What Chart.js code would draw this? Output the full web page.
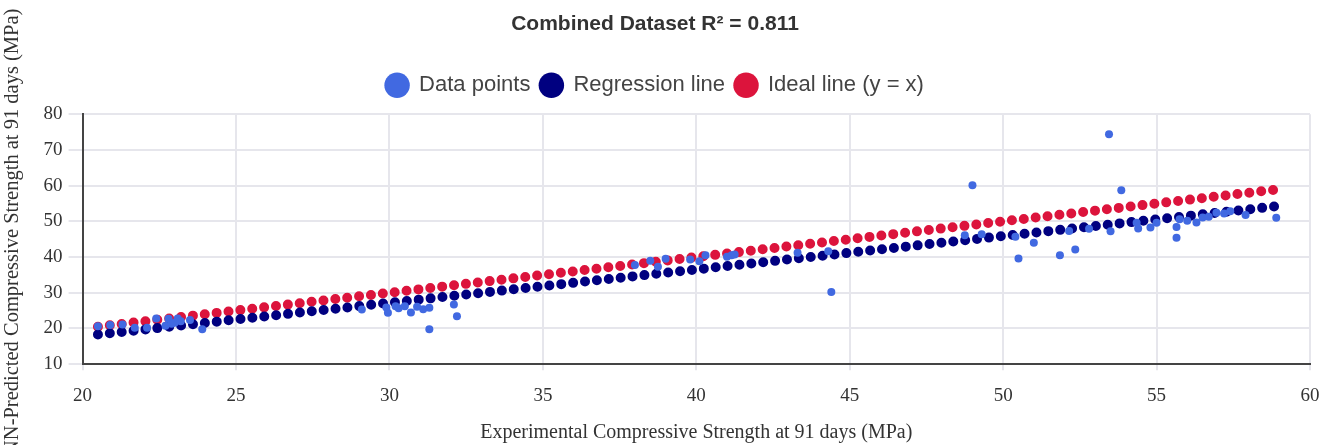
<!DOCTYPE html>
<html>
<head>
<meta charset="utf-8">
<script src="https://cdn.jsdelivr.net/npm/chart.js@4.4.1/dist/chart.umd.min.js"></script>
<style>
  html, body { margin: 0; padding: 0; background: #fff; }
  #wrap { width: 1335px; height: 445px; }
</style>
</head>
<body>
<div id="wrap"><canvas id="fitChart"></canvas></div>
<script>
// Valores
const experimental = [
  20.5, 20.9, 21.3, 21.7, 22.1, 22.4, 22.7, 22.8, 22.9, 23.0, 23.1, 23.2, 23.5, 23.9,
  29.1, 29.9, 29.95, 30.2, 30.3, 30.5, 30.7, 30.9, 31.1, 31.3, 31.3, 32.1, 32.2,
  38.0, 38.5, 38.75, 39.0, 39.8, 40.1, 40.3, 41.0, 41.15, 41.25, 43.3, 44.3, 44.4,
  48.75, 49.0, 49.3, 50.4, 50.5, 51.0, 51.85, 52.15, 52.35, 52.8, 53.45, 53.5, 53.85,
  54.35, 54.4, 54.8, 55.0, 55.65, 55.65, 55.75, 56.0, 56.3, 56.5, 56.7, 56.95, 57.2,
  57.4, 57.9, 58.9
];
const predicted = [
  20.6, 21.0, 21.1, 20.2, 20.2, 22.8, 20.8, 22.7, 21.3, 21.6, 22.8, 22.0, 22.4, 19.8,
  25.3, 25.9, 24.4, 26.2, 25.7, 26.2, 24.5, 26.1, 25.4, 25.8, 19.8, 26.7, 23.4,
  37.8, 39.0, 37.3, 39.5, 39.3, 38.8, 40.5, 40.1, 40.5, 40.7, 41.2, 41.6, 30.2,
  46.1, 60.1, 46.4, 45.7, 39.6, 44.0, 40.5, 47.3, 42.1, 47.9, 74.4, 47.2, 58.7,
  49.6, 48.0, 48.3, 49.6, 48.4, 45.4, 50.6, 50.2, 49.7, 51.1, 51.3, 52.4, 52.2,
  52.8, 51.8, 51.0
];

// Extremos de las líneas
const regressionX = [20.5, 58.9];
const regressionY = [18.3, 54.2];
const idealX = [20.5, 58.9];
const idealY = [20.5, 58.9];

// Ejes
const xMin = 20, xMax = 60, xStep = 5;
const yMin = 10, yMax = 80, yStep = 10;

const chartTitle = 'Combined Dataset R² = 0.811';
const seriesNames = ['Data points', 'Regression line', 'Ideal line (y = x)'];
const xTitle = 'Experimental Compressive Strength at 91 days (MPa)';
const yTitle = 'ANN-Predicted Compressive Strength at 91 days (MPa)';

const toPoints = (xs, ys) => xs.map((x, i) => ({ x: x, y: ys[i] }));

const serif = 'Liberation Serif, Times New Roman, serif';
const sans = 'Liberation Sans, Arial, sans-serif';

// Línea punteada hecha con guiones de longitud cero y extremos redondos
const dotted = (color) => ({
  showLine: true,
  pointRadius: 0,
  pointHoverRadius: 0,
  borderColor: color,
  backgroundColor: color,
  borderWidth: 10,
  borderCapStyle: 'round',
  borderDash: [0, 11.95]
});

// Más espacio bajo la leyenda
const legendSpace = {
  id: 'legendSpace',
  beforeInit(chart) {
    const fit = chart.legend.fit;
    chart.legend.fit = function () {
      fit.call(this);
      this.height += 8;
    };
  }
};

new Chart(document.getElementById('fitChart'), {
  type: 'scatter',
  data: {
    datasets: [
      {
        label: seriesNames[0],
        data: toPoints(experimental, predicted),
        backgroundColor: '#4169E1',
        borderColor: '#4169E1',
        pointRadius: 4,
        borderWidth: 0
      },
      Object.assign({ label: seriesNames[1], data: toPoints(regressionX, regressionY) }, dotted('#000080')),
      Object.assign({ label: seriesNames[2], data: toPoints(idealX, idealY) }, dotted('#DC143C'))
    ]
  },
  plugins: [legendSpace],
  options: {
    responsive: true,
    maintainAspectRatio: false,
    animation: false,
    layout: { padding: { left: 0, right: 25, top: 0, bottom: 0 } },
    plugins: {
      title: {
        display: true,
        text: chartTitle,
        color: '#333',
        font: { family: sans, size: 21, weight: 'bold' },
        padding: { top: 12, bottom: 27 }
      },
      legend: {
        labels: {
          usePointStyle: true,
          pointStyle: 'circle',
          boxHeight: 18,
          color: '#444',
          font: { family: sans, size: 22 },
          padding: 10,
          generateLabels(chart) {
            return Chart.defaults.plugins.legend.labels.generateLabels(chart).map(item => {
              item.lineWidth = 0;
              item.lineDash = [];
              item.strokeStyle = item.fillStyle;
              return item;
            });
          }
        }
      },
      tooltip: { enabled: false }
    },
    scales: {
      x: {
        type: 'linear',
        min: xMin,
        max: xMax,
        ticks: { stepSize: xStep, color: '#333', font: { family: serif, size: 19 }, padding: 14 },
        grid: { color: '#e6e6ec', lineWidth: 2, tickLength: 6 },
        border: { color: '#444', width: 2 },
        title: { display: true, text: xTitle, color: '#333', font: { family: serif, size: 20 }, padding: { top: 0, bottom: 0 } }
      },
      y: {
        min: yMin,
        max: yMax,
        ticks: { stepSize: yStep, color: '#333', font: { family: serif, size: 19 }, padding: 6 },
        grid: { color: '#e6e6ec', lineWidth: 2, tickLength: 14 },
        border: { color: '#444', width: 2 },
        title: { display: true, text: yTitle, color: '#333', font: { family: serif, size: 20.5 }, padding: { top: 0, bottom: 13 } }
      }
    }
  }
});
</script>
</body>
</html>
